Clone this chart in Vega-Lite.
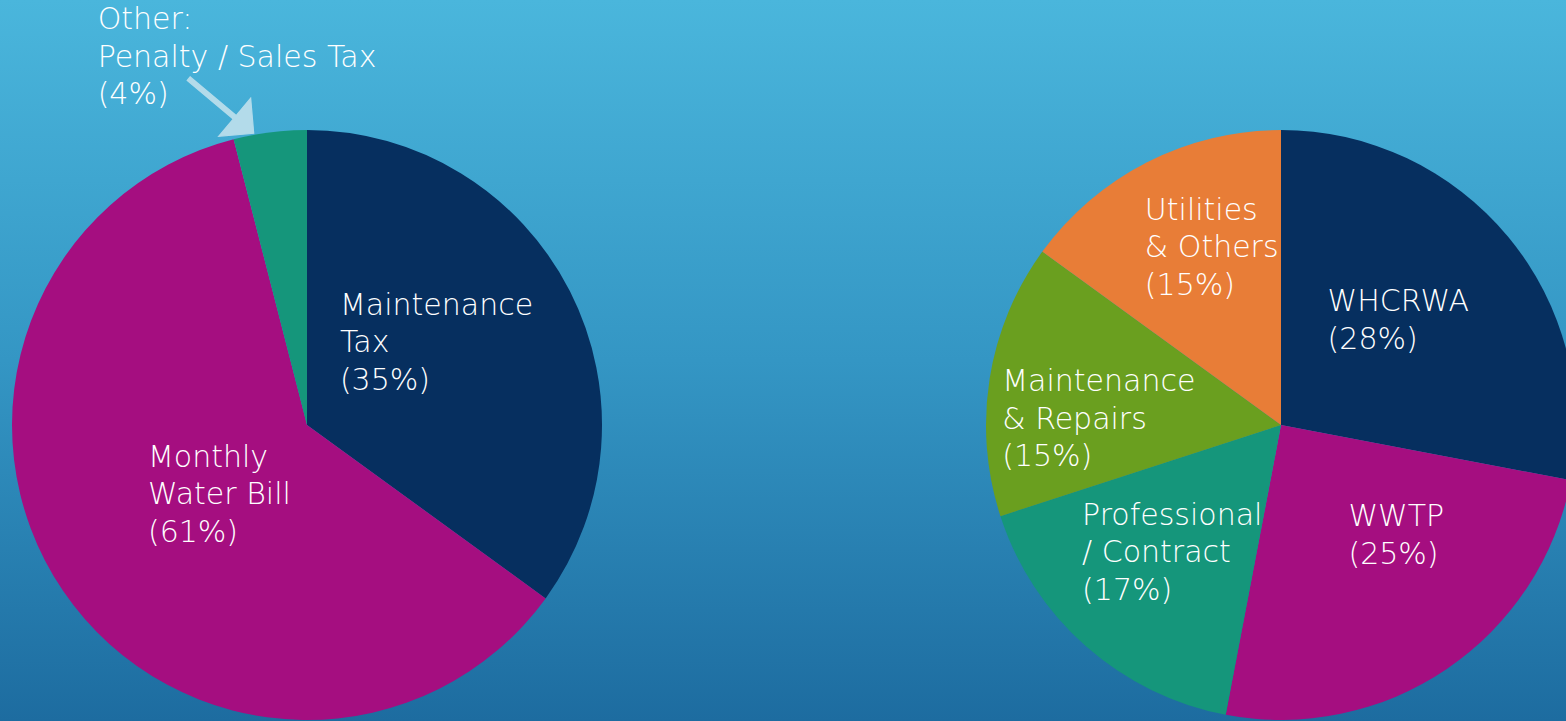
{
  "$schema": "https://vega.github.io/schema/vega-lite/v6.json",
  "width": 1566,
  "height": 721,
  "autosize": "none",
  "padding": 0,
  "background": "#3496c4",
  "config": {
    "view": {
      "stroke": null,
      "fill": {"gradient": "linear", "x1": 0, "y1": 0, "x2": 0, "y2": 1,
        "stops": [{"offset": 0, "color": "#4ab6dc"}, {"offset": 0.5, "color": "#3496c4"}, {"offset": 1, "color": "#1d6ca0"}]}
    },
    "text": {"font": "DejaVu Sans", "fontSize": 30, "fontWeight": 300, "color": "#ffffff", "align": "left", "baseline": "middle", "lineBreak": "\n", "lineHeight": 37.5}
  },
  "datasets": {
    "pies": [
      {"chart": "Revenue", "label": "Maintenance Tax", "value": 35, "seq": 1, "text": "Maintenance\nTax\n(35%)"},
      {"chart": "Revenue", "label": "Monthly Water Bill", "value": 61, "seq": 2, "text": "Monthly\nWater Bill\n(61%)"},
      {"chart": "Revenue", "label": "Other: Penalty / Sales Tax", "value": 4, "seq": 3, "text": "Other:\nPenalty / Sales Tax\n(4%)"},
      {"chart": "Expenses", "label": "WHCRWA", "value": 28, "seq": 1, "text": "WHCRWA\n(28%)"},
      {"chart": "Expenses", "label": "WWTP", "value": 25, "seq": 2, "text": "WWTP\n(25%)"},
      {"chart": "Expenses", "label": "Professional / Contract", "value": 17, "seq": 3, "text": "Professional\n/ Contract\n(17%)"},
      {"chart": "Expenses", "label": "Maintenance & Repairs", "value": 15, "seq": 4, "text": "Maintenance\n& Repairs\n(15%)"},
      {"chart": "Expenses", "label": "Utilities & Others", "value": 15, "seq": 5, "text": "Utilities\n& Others\n(15%)"}
    ]
  },
  "data": {"name": "pies"},
  "encoding": {
    "x": {"field": "chart", "type": "nominal", "scale": {"type": "point", "domain": ["Revenue", "Expenses"], "range": [307, 1281], "padding": 0}, "axis": null},
    "y": {"field": "chart", "type": "nominal", "scale": {"type": "point", "domain": ["Revenue", "Expenses"], "range": [425, 425], "padding": 0}, "axis": null},
    "theta": {"field": "value", "type": "quantitative", "stack": true, "scale": {"domain": [0, 100]}},
    "order": {"field": "seq", "type": "quantitative"}
  },
  "layer": [
    {
      "transform": [{"filter": "datum.chart === 'Revenue'"}],
      "mark": {"type": "arc", "radius": 295},
      "encoding": {
        "color": {"field": "label", "type": "nominal", "legend": null,
          "scale": {"domain": ["Maintenance Tax", "Monthly Water Bill", "Other: Penalty / Sales Tax", "WHCRWA", "WWTP", "Professional / Contract", "Maintenance & Repairs", "Utilities & Others"],
                    "range": ["#062f5f", "#a50e80", "#15967b", "#062f5f", "#a50e80", "#15967b", "#6a9f1f", "#e87d37"]}}
      }
    },
    {
      "transform": [{"filter": "datum.chart === 'Expenses'"}],
      "mark": {"type": "arc", "radius": 295},
      "encoding": {
        "color": {"field": "label", "type": "nominal", "legend": null}
      }
    },
    {
      "transform": [{"filter": "datum.chart === 'Revenue'"}],
      "mark": {"type": "text", "radius": 180.6, "dx": -128, "dy": -37.5},
      "encoding": {"text": {"condition": {"test": "datum.label === 'Maintenance Tax'", "field": "text"}, "value": ""}}
    },
    {
      "transform": [{"filter": "datum.chart === 'Revenue'"}],
      "mark": {"type": "text", "radius": 124.6, "dx": -56, "dy": -37.5},
      "encoding": {"text": {"condition": {"test": "datum.label === 'Monthly Water Bill'", "field": "text"}, "value": ""}}
    },
    {
      "transform": [{"filter": "datum.chart === 'Revenue'"}],
      "mark": {"type": "text", "radius": 370, "dx": -163, "dy": -37.5},
      "encoding": {"text": {"condition": {"test": "datum.label === 'Other: Penalty / Sales Tax'", "field": "text"}, "value": ""}}
    },
    {
      "transform": [{"filter": "datum.chart === 'Revenue'"}],
      "mark": {"type": "text", "radius": 320.6, "dx": -36, "dy": 30, "angle": 40, "align": "center", "fontSize": 116, "fontWeight": "normal", "color": "#b3dbea", "stroke": "#b3dbea", "strokeWidth": 1.2},
      "encoding": {"text": {"condition": {"test": "datum.label === 'Other: Penalty / Sales Tax'", "value": "➝"}, "value": ""}}
    },
    {
      "transform": [{"filter": "datum.chart === 'Expenses'"}],
      "mark": {"type": "text", "radius": 163, "dx": -79, "dy": -18.75},
      "encoding": {"text": {"condition": {"test": "datum.label === 'WHCRWA'", "field": "text"}, "value": ""}}
    },
    {
      "transform": [{"filter": "datum.chart === 'Expenses'"}],
      "mark": {"type": "text", "radius": 134.2, "dx": -8, "dy": -18.75},
      "encoding": {"text": {"condition": {"test": "datum.label === 'WWTP'", "field": "text"}, "value": ""}}
    },
    {
      "transform": [{"filter": "datum.chart === 'Expenses'"}],
      "mark": {"type": "text", "radius": 170.7, "dx": -86, "dy": -37.5},
      "encoding": {"text": {"condition": {"test": "datum.label === 'Professional / Contract'", "field": "text"}, "value": ""}}
    },
    {
      "transform": [{"filter": "datum.chart === 'Expenses'"}],
      "mark": {"type": "text", "radius": 180, "dx": -101, "dy": -14.5},
      "encoding": {"text": {"condition": {"test": "datum.label === 'Maintenance & Repairs'", "field": "text"}, "value": ""}}
    },
    {
      "transform": [{"filter": "datum.chart === 'Expenses'"}],
      "mark": {"type": "text", "radius": 198.6, "dx": -46, "dy": -37.5},
      "encoding": {"text": {"condition": {"test": "datum.label === 'Utilities & Others'", "field": "text"}, "value": ""}}
    }
  ]
}
